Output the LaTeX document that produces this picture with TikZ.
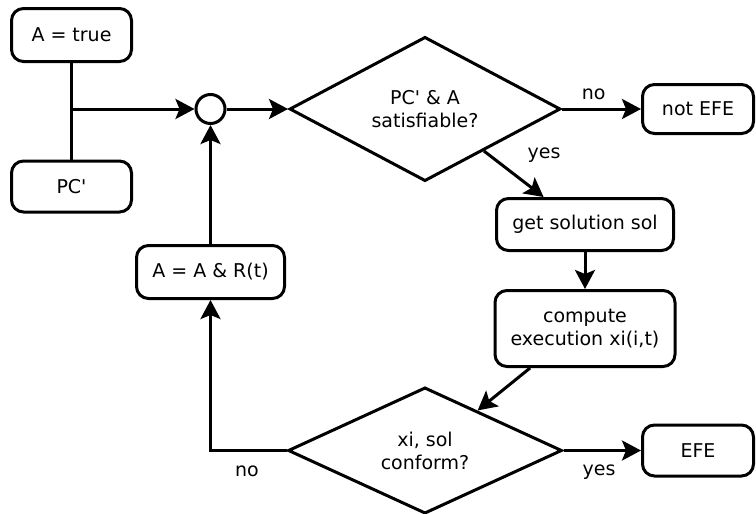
\documentclass[tikz,border=0pt]{standalone}
\usepackage{fontspec}
\setmainfont{DejaVu Sans}[Ligatures=TeXOff]
\usetikzlibrary{arrows.meta,shapes.geometric,calc}

\begin{document}
\begin{tikzpicture}[x=1pt,y=-1pt,
  every node/.style={font=\fontsize{19}{23}\selectfont},
  box/.style={draw, rounded corners=12pt, line width=3pt, inner sep=0pt, align=center},
  test/.style={draw, diamond, line width=3pt, inner sep=0pt, align=center},
  flow/.style={line width=3pt, -{Stealth[length=19pt,width=20pt,inset=4pt]}},
  link/.style={line width=3pt},
  lbl/.style={inner sep=0pt}
]
\useasboundingbox (0,0) rectangle (756,514);

% start values
\node[box, minimum width=120pt, minimum height=53pt] (init) at (71.5,35) {A = true};
\node[box, minimum width=120pt, minimum height=51pt] (pc) at (71.5,186.5) {PC'};

% merge point
\node[draw, circle, line width=3pt, minimum size=29pt, inner sep=0pt] (join) at (210.5,109) {};

% satisfiability check
\node[test, minimum width=271pt, minimum height=144pt] (sat) at (425,109) {PC' \& A\\satisfiable?};
\node[box, minimum width=111pt, minimum height=49pt] (notefe) at (698,109) {not EFE};

% solution and execution
\node[box, minimum width=177pt, minimum height=52pt] (sol) at (585,224.5) {get solution sol};
\node[box, minimum width=180pt, minimum height=76pt] (exec) at (585,328.5) {compute\\execution xi(i,t)};

% conformance check
\node[test, minimum width=274pt, minimum height=125pt] (conf) at (425,450.5) {xi, sol\\conform?};
\node[box, minimum width=111pt, minimum height=51pt] (efe) at (698,450.5) {EFE};

% refinement
\node[box, minimum width=148pt, minimum height=53pt] (refine) at (210.5,272) {A = A \& R(t)};

% connectors
\draw[link] (init.south) -- (pc.north);
\coordinate (fork) at (init.south |- join.west);
\draw[flow] (fork) -- (join.west);
\draw[flow] (join.east) -- (sat.west);
\draw[flow] (sat.east) -- node[lbl, pos=0.4, above=8pt] (no1) {no} (notefe.west);
\draw[flow] ($(sat.east)!0.57!(sat.south)$) -- ($(sol.north west)!0.27!(sol.north east)$);
\node[lbl] (yes1) at (544,155) {yes};
\draw[flow] (sol.south) -- (exec.north);
\draw[flow] ($(exec.south west)!0.2!(exec.south east)$) -- ($(conf.north)!0.38!(conf.east)$);
\draw[flow] (conf.east) -- node[lbl, pos=0.46, below=13pt] (yes2) {yes} (efe.west);
\draw[flow] (conf.west) -| node[lbl, pos=0.26, below=14pt] (no2) {no} (refine.south);
\draw[flow] (refine.north) -- (join.south);
\end{tikzpicture}
\end{document}
